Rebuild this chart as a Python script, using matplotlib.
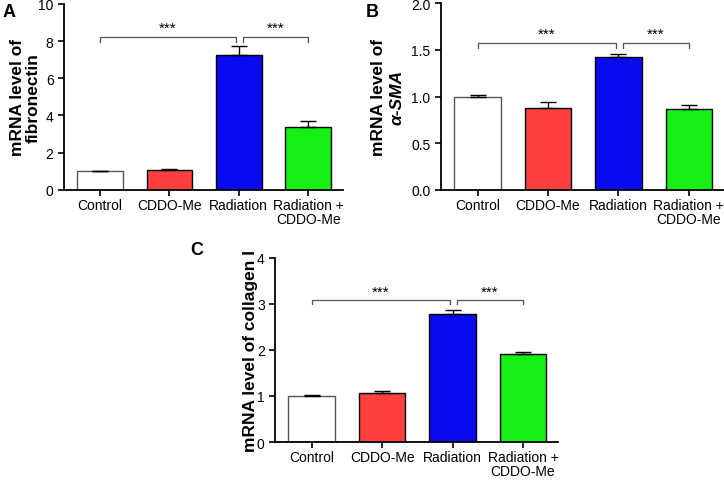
import numpy as np
import matplotlib.pyplot as plt
import matplotlib

matplotlib.rcParams['font.family'] = ['Liberation Sans', 'DejaVu Sans']
matplotlib.rcParams['font.size'] = 10

groups = ["Control", "CDDO-Me", "Radiation", "Radiation +\nCDDO-Me"]
colors = ["white", "#FF4040", "#0A0AF0", "#14F014"]
edges = ["#555555", "black", "black", "black"]

fn_mean = [1.0, 1.07, 7.27, 3.37]
fn_err = [0.02, 0.05, 0.45, 0.33]
sma_mean = [1.0, 0.88, 1.42, 0.87]
sma_err = [0.02, 0.06, 0.04, 0.04]
col_mean = [1.0, 1.06, 2.77, 1.91]
col_err = [0.02, 0.04, 0.09, 0.05]

fig = plt.figure(figsize=(7.24, 4.81), dpi=100)
axA = fig.add_axes([0.0884, 0.603, 0.385, 0.387])
axB = fig.add_axes([0.609, 0.603, 0.391, 0.388])
axC = fig.add_axes([0.380, 0.079, 0.391, 0.383])


def panel(ax, mean, err, ymax, step, brk, tip, star, fmt):
    x = np.arange(len(groups))
    ax.bar(x, mean, width=0.66, color=colors, edgecolor=edges, linewidth=1.0, zorder=2)
    lower = np.zeros(len(err))
    ax.errorbar(x, mean, yerr=[lower, err], fmt="none", ecolor="black",
                elinewidth=1.0, capsize=6, capthick=1.0, zorder=3)
    ax.set_xlim(-0.52, 3.5)
    ax.set_ylim(0, ymax)
    ax.set_yticks(np.arange(0, ymax + step / 2, step))
    ax.yaxis.set_major_formatter(matplotlib.ticker.FormatStrFormatter(fmt))
    ax.set_xticks(x)
    ax.set_xticklabels(groups, fontsize=10, linespacing=0.95)
    ax.tick_params(axis="both", direction="out", width=1.2, length=4, labelsize=10)
    ax.tick_params(axis="x", pad=2)
    for s in ["top", "right"]:
        ax.spines[s].set_visible(False)
    for s in ["left", "bottom"]:
        ax.spines[s].set_linewidth(1.3)
    # significance brackets
    gray = "#555555"
    ax.plot([0, 0, 1.96, 1.96], [tip, brk, brk, tip], color=gray, lw=0.9, clip_on=False)
    ax.plot([2.06, 2.06, 3, 3], [tip, brk, brk, tip], color=gray, lw=0.9, clip_on=False)
    ax.text(0.98, star, "***", ha="center", va="center", fontsize=11)
    ax.text(2.53, star, "***", ha="center", va="center", fontsize=11)


panel(axA, fn_mean, fn_err, 10, 2, 8.21, 7.95, 8.7, "%d")
panel(axB, sma_mean, sma_err, 2.0, 0.5, 1.58, 1.52, 1.67, "%.1f")
panel(axC, col_mean, col_err, 4, 1, 3.09, 2.99, 3.26, "%d")

lab = dict(fontsize=12.5, fontweight="bold", rotation=90, ha="center", va="center")
axA.text(-0.168, 0.5, "mRNA level of", transform=axA.transAxes, **lab)
axA.text(-0.111, 0.5, "fibronectin", transform=axA.transAxes, **lab)
axB.text(-0.222, 0.5, "mRNA level of", transform=axB.transAxes, **lab)
axB.text(-0.155, 0.5, "α-SMA", transform=axB.transAxes, fontstyle="italic", **lab)
axC.text(-0.088, 0.5, "mRNA level of collagen I", transform=axC.transAxes, **lab)

fig.text(0.003, 0.975, "A", fontsize=13, fontweight="bold", va="center")
fig.text(0.505, 0.975, "B", fontsize=13, fontweight="bold", va="center")
fig.text(0.263, 0.48, "C", fontsize=13, fontweight="bold", va="center")

fig.savefig("out.png", dpi=100)
